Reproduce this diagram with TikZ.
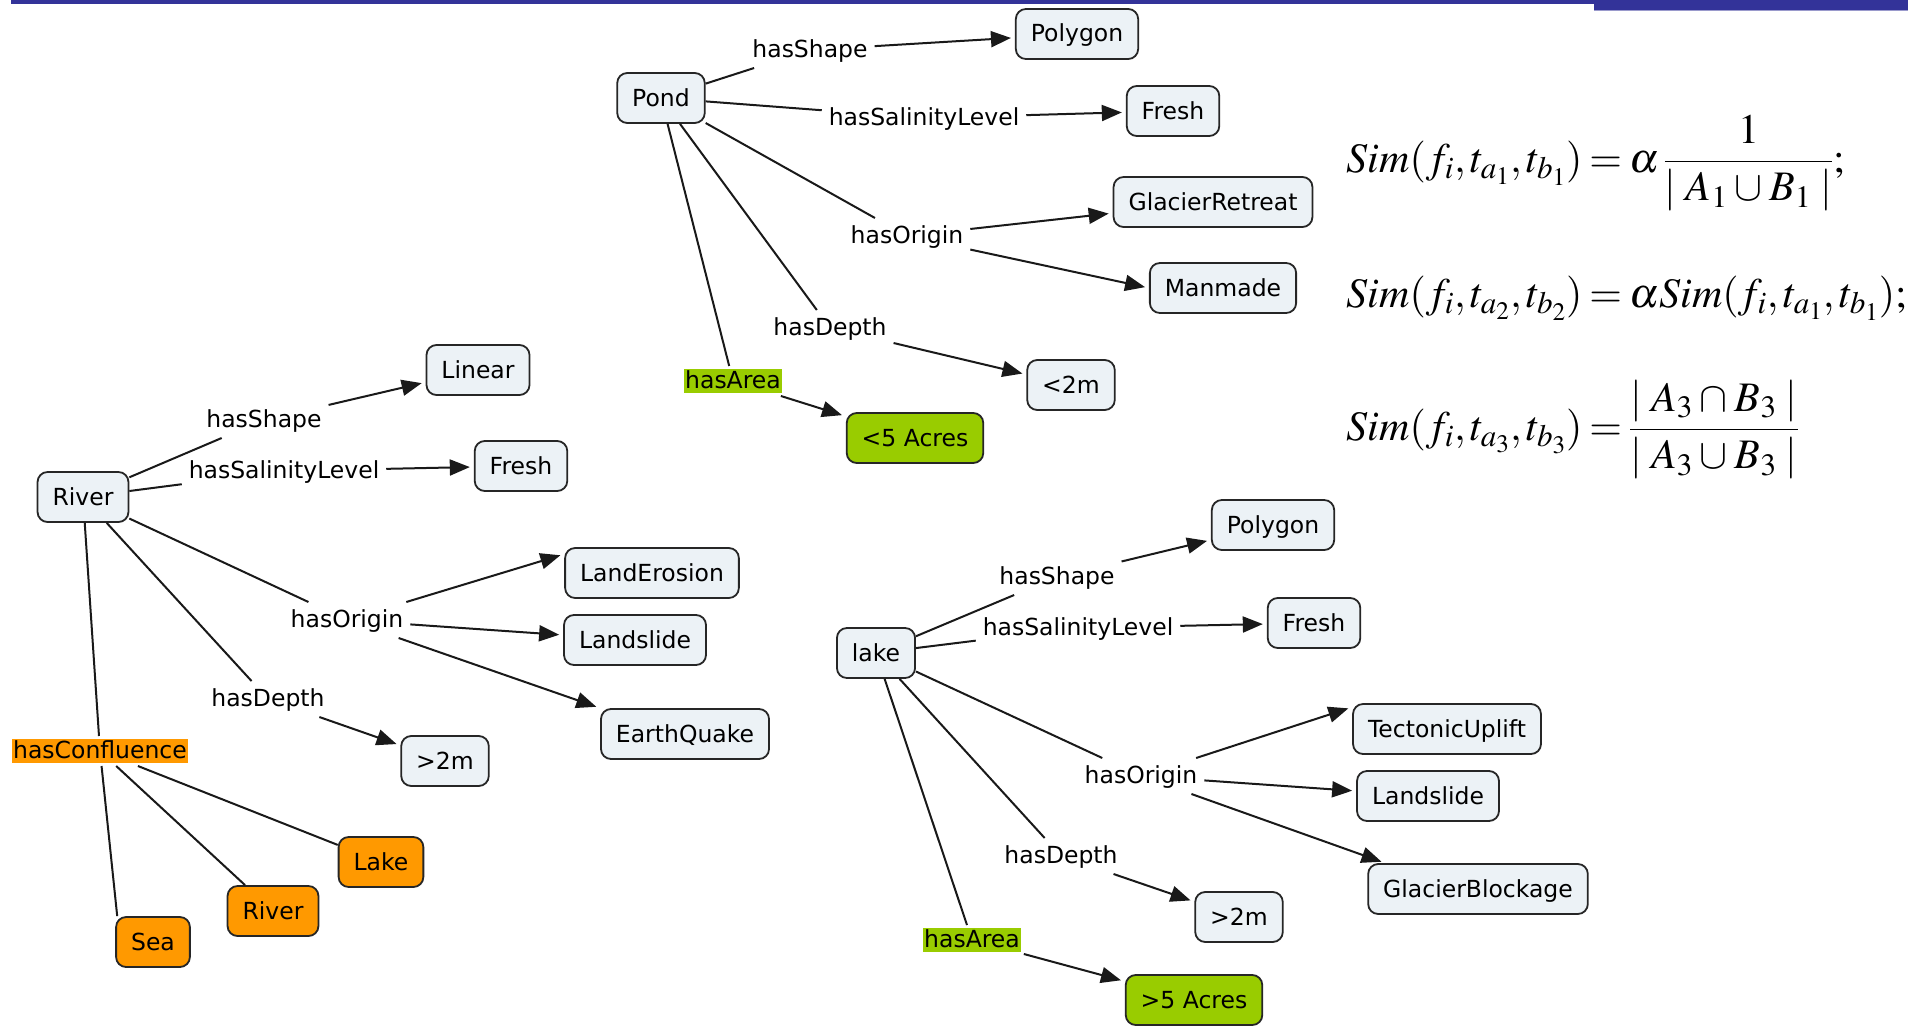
\documentclass[tikz,border=0pt]{standalone}
\usepackage[no-math]{fontspec}
\usepackage{mathptmx}
\newfontfamily\cmapfont{DejaVu Sans}
\usetikzlibrary{arrows.meta}

\definecolor{boxfill}{HTML}{ECF2F6}
\definecolor{cmOrange}{HTML}{FF9900}
\definecolor{cmGreen}{HTML}{99CC00}
\definecolor{barblue}{HTML}{333399}
\definecolor{barshade}{HTML}{9A9ACC}

\newcommand\lblfont{\cmapfont\fontsize{23.5}{28}\selectfont}
\newcommand\tightmath{\thickmuskip=3mu plus 1mu\medmuskip=2mu\thinmuskip=2mu}
\newcommand\setunion{\mskip3mu{\cup}\mskip3mu}
\newcommand\setinter{\mskip3mu{\cap}\mskip3mu}

\tikzset{
  concept/.style={draw=black!85, line width=1.8pt, rounded corners=10pt, fill=boxfill,
    font=\lblfont, inner xsep=15pt, inner ysep=0pt, minimum height=50pt,
    text height=19pt, text depth=3pt},
  orangebox/.style={concept, fill=cmOrange},
  greenbox/.style={concept, fill=cmGreen},
  linklabel/.style={font=\lblfont, inner sep=1pt, outer sep=6pt,
    text height=18pt, text depth=4pt},
  hilabel/.style={linklabel, outer sep=3pt},
  ln/.style={line width=2pt, draw=black!90},
  arr/.style={ln, -{Triangle[length=20pt,width=16pt]}, shorten >=4pt},
  eqn/.style={anchor=base west, inner sep=0pt, font=\fontsize{42}{50}\selectfont},
}

\begin{document}
\begin{tikzpicture}[x=1pt, y=-1pt]
\useasboundingbox (0,0) rectangle (1908,1025);

% header rule
\fill[barblue] (11,0) rectangle (1594,4);
\fill[barblue] (1594,0) rectangle (1908,10);
\draw[barshade, line width=1pt] (1594,10.5) -- (1908,10.5);

% ---------------- Pond ----------------
\node[concept] (pond) at (661,98) {Pond};
\node[concept] (polyA) at (1077,34) {Polygon};
\node[concept] (freshA) at (1173,111) {Fresh};
\node[concept] (glacierR) at (1213,202) {GlacierRetreat};
\node[concept] (manmade) at (1223,288) {Manmade};
\node[concept] (lttwo) at (1071,385) {<2m};
\node[greenbox] (ltfive) at (915,438) {<5 Acres};

\node[linklabel] (shapeA) at (810,50) {hasShape};
\node[linklabel] (salA) at (924,118) {hasSalinityLevel};
\node[linklabel] (originA) at (907,236) {hasOrigin};
\node[linklabel] (depthA) at (830,328) {hasDepth};
\node[hilabel, fill=cmGreen] (areaA) at (733,381) {hasArea};

\draw[ln] (pond) -- (shapeA);
\draw[arr] (shapeA) -- (polyA);
\draw[ln] (pond) -- (salA);
\draw[arr] (salA) -- (freshA);
\draw[ln] (pond) -- (originA);
\draw[arr] (originA) -- (glacierR);
\draw[arr] (originA) -- (manmade.west);
\draw[ln] (pond) -- (depthA);
\draw[arr] (depthA) -- (lttwo);
\draw[ln] (pond) -- (areaA);
\draw[arr] (areaA) -- (ltfive);

% ---------------- River ----------------
\node[concept] (river) at (83,497) {River};
\node[concept] (linear) at (478,370) {Linear};
\node[concept] (freshB) at (521,466) {Fresh};
\node[concept] (erosion) at (652,573) {LandErosion};
\node[concept] (slideB) at (635,640) {Landslide};
\node[concept] (quake) at (685,734) {EarthQuake};
\node[concept] (gttwoB) at (445,761) {>2m};
\node[orangebox] (lakeO) at (381,862) {Lake};
\node[orangebox] (riverO) at (273,911) {River};
\node[orangebox] (sea) at (153,942) {Sea};

\node[linklabel] (shapeB) at (264,420) {hasShape};
\node[linklabel] (salB) at (284,471) {hasSalinityLevel};
\node[linklabel] (originB) at (347,620) {hasOrigin};
\node[linklabel] (depthB) at (268,699) {hasDepth};
\node[hilabel, fill=cmOrange] (confl) at (100,751) {hasConfluence};

\draw[ln] (river) -- (shapeB);
\draw[arr] (shapeB) -- (linear);
\draw[ln] (river) -- (salB);
\draw[arr] (salB) -- (freshB);
\draw[ln] (river) -- (originB);
\draw[arr] (originB) -- ([yshift=-7pt]erosion.north west);
\draw[arr] (originB) -- (slideB);
\draw[arr] (originB) -- (quake.north west);
\draw[ln] (river) -- (depthB);
\draw[arr] (depthB) -- (gttwoB);
\draw[ln] (river) -- (confl);
\draw[ln] (confl) -- (lakeO);
\draw[ln] (confl) -- (riverO);
\draw[ln] (confl) -- ([xshift=2pt]sea.north west);

% ---------------- lake ----------------
\node[concept] (lake) at (876,653) {lake};
\node[concept] (polyC) at (1273,525) {Polygon};
\node[concept] (freshC) at (1314,623) {Fresh};
\node[concept] (tecto) at (1447,729) {TectonicUplift};
\node[concept] (slideC) at (1428,796) {Landslide};
\node[concept] (glacierB) at (1478,889) {GlacierBlockage};
\node[concept] (gttwoC) at (1239,917) {>2m};
\node[greenbox] (gtfive) at (1194,1000) {>5 Acres};

\node[linklabel] (shapeC) at (1057,577) {hasShape};
\node[linklabel] (salC) at (1078,628) {hasSalinityLevel};
\node[linklabel] (originC) at (1141,776) {hasOrigin};
\node[linklabel] (depthC) at (1061,856) {hasDepth};
\node[hilabel, fill=cmGreen] (areaC) at (972,940) {hasArea};

\draw[ln] (lake) -- (shapeC);
\draw[arr] (shapeC) -- (polyC);
\draw[ln] (lake) -- (salC);
\draw[arr] (salC) -- (freshC);
\draw[ln] (lake) -- (originC);
\draw[arr] (originC) -- ([yshift=-4pt]tecto.north west);
\draw[arr] (originC) -- (slideC);
\draw[arr] (originC) -- ([xshift=18pt]glacierB.north west);
\draw[ln] (lake) -- (depthC);
\draw[arr] (depthC) -- (gttwoC);
\draw[ln] (lake) -- (areaC);
\draw[arr] (areaC) -- (gtfive);

% ---------------- similarity measures ----------------
\node[eqn] (eqone) at (1346,172)
  {$\tightmath Sim(f_i,t_{a_1},t_{b_1})=\alpha\,{\displaystyle\frac{1}{|\mskip4mu A_1\setunion B_1\mskip4mu|}};$};
\node[eqn] (eqtwo) at (1346,307)
  {$\tightmath Sim(f_i,t_{a_2},t_{b_2})=\alpha Sim(f_i,t_{a_1},t_{b_1});$};
\node[eqn] (eqthree) at (1346,440)
  {$\tightmath Sim(f_i,t_{a_3},t_{b_3})={\displaystyle\frac{|\mskip4mu A_3\setinter B_3\mskip4mu|}{|\mskip4mu A_3\setunion B_3\mskip4mu|}}$};
\end{tikzpicture}
\end{document}
